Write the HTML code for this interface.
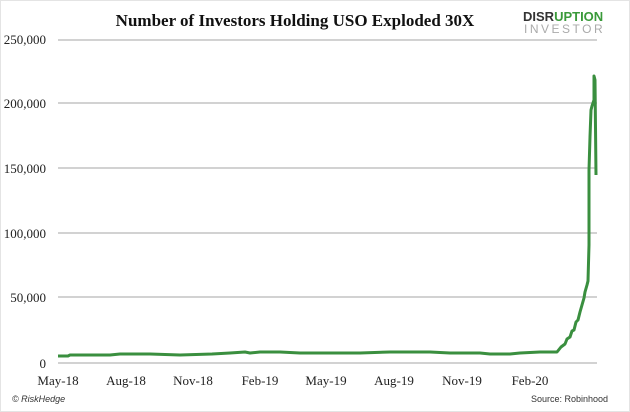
<!DOCTYPE html>
<html><head><meta charset="utf-8"><style>
body{margin:0;background:#fff}
svg{display:block}
text{font-family:"Liberation Serif",serif}
</style></head><body>
<svg width="630" height="412" viewBox="0 0 630 412" xmlns="http://www.w3.org/2000/svg">
<rect x="0.5" y="0.5" width="629" height="411" fill="#fff" stroke="#e4e4e4"/>
<text x="295" y="26" text-anchor="middle" font-size="17" font-weight="bold" fill="#111">Number of Investors Holding USO Exploded 30X</text>
<text x="523" y="21" font-family="Liberation Sans,sans-serif" font-size="13" font-weight="bold" fill="#333" style="font-family:'Liberation Sans',sans-serif">DISR<tspan fill="#3a9a3a">UPTION</tspan></text>
<text x="524" y="33" font-size="12" fill="#aaa" letter-spacing="2.5" style="font-family:'Liberation Sans',sans-serif">INVESTOR</text>
<g stroke="#c4c4c4" stroke-width="1.5">
<line x1="58" y1="40" x2="597" y2="40"/>
<line x1="58" y1="103" x2="597" y2="103"/>
<line x1="58" y1="168" x2="597" y2="168"/>
<line x1="58" y1="233" x2="597" y2="233"/>
<line x1="58" y1="297" x2="597" y2="297"/>
<line x1="58" y1="363" x2="597" y2="363"/>
</g>
<g font-size="13" fill="#222" text-anchor="end">
<text x="46" y="44">250,000</text>
<text x="46" y="108">200,000</text>
<text x="46" y="173">150,000</text>
<text x="46" y="238">100,000</text>
<text x="46" y="302">50,000</text>
<text x="46" y="368">0</text>
</g>
<g font-size="13" fill="#222" text-anchor="middle">
<text x="58" y="385">May-18</text>
<text x="126" y="385">Aug-18</text>
<text x="193" y="385">Nov-18</text>
<text x="260" y="385">Feb-19</text>
<text x="326" y="385">May-19</text>
<text x="394" y="385">Aug-19</text>
<text x="462" y="385">Nov-19</text>
<text x="530" y="385">Feb-20</text>
</g>
<polyline fill="none" stroke="#3a8f3f" stroke-width="3" stroke-linejoin="round"
points="58,356 68,356 70,355 110,355 120,354 150,354 180,355 212,354 230,353 245,352 250,353 260,352 280,352 300,353 360,353 390,352 400,352 430,352 450,353 470,353 480,353 490,354 510,354 520,353 540,352 557,352 561,347 565,344 567,339 570,337 572,331 574,330 576,322 578,320 580,312 582,305 584,298 585,292 587,285 588,281 589,245 589,170 590,137 591,110 592,106 594,100 594,76 595,80 596,175"/>
<text x="12" y="402" font-size="9" font-style="italic" fill="#333" style="font-family:'Liberation Sans',sans-serif">© RiskHedge</text>
<text x="608" y="402" font-size="9" text-anchor="end" fill="#333" style="font-family:'Liberation Sans',sans-serif">Source: Robinhood</text>
</svg>
</body></html>
